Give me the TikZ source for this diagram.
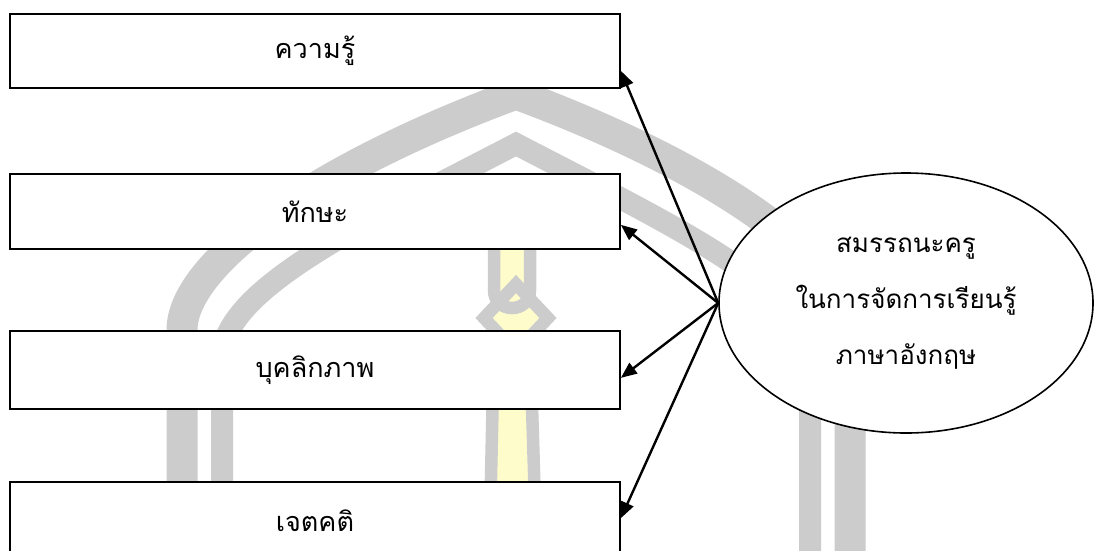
\documentclass[tikz,border=0pt]{standalone}
\usepackage{fontspec}
\newfontfamily\thai[Script=Thai]{Loma}
\usetikzlibrary{arrows.meta,shapes.geometric}
\definecolor{wmgrey}{HTML}{CCCCCC}
\definecolor{wmyellow}{HTML}{FFFCCC}
\tikzset{
  box/.style={draw=black, line width=1.7pt, fill=white, rectangle,
    minimum width=610pt, inner sep=0pt, font=\thai\fontsize{27}{32}\selectfont},
  core/.style={draw=black, line width=1.6pt, fill=white, ellipse,
    minimum width=374pt, minimum height=260pt, inner sep=0pt, align=center,
    font=\thai\fontsize{26}{56}\selectfont},
  link/.style={line width=2.4pt, -{Triangle[length=16pt,width=13pt]}},
  band/.style={draw=wmgrey},
  spire/.style={draw=wmgrey, line width=12.5pt, line join=miter},
}
\begin{document}
\begin{tikzpicture}[x=1pt,y=-1pt]
\fill[white] (0,0) rectangle (1094,550);
\useasboundingbox (0,0) rectangle (1094,550);

% background emblem: two arched bands
\draw[band, line width=31pt] (182,570) -- (182,330)
  .. controls (182,265) and (310,170) .. (516,94)
  .. controls (722,170) and (850,265) .. (850,330) -- (850,570);
\draw[band, line width=22pt] (222,570) -- (222,358)
  .. controls (222,290) and (360,225) .. (516,144)
  .. controls (672,225) and (810,290) .. (810,358) -- (810,570);

% background emblem: central spire
\fill[wmyellow] (494,185) -- (494,290) .. controls (494,314) and (530,314) .. (530,290) -- (530,185) -- cycle;
\fill[wmyellow] (516,284) -- (548,318) -- (516,352) -- (484,318) -- cycle;
\fill[wmyellow] (494,340) -- (489,570) -- (537,570) -- (530,340) -- cycle;
\draw[spire] (516,284) -- (548,318) -- (516,352) -- (484,318) -- cycle;
\draw[spire] (494,185) -- (494,290) .. controls (494,314) and (530,314) .. (530,290) -- (530,185);
\draw[spire] (494,340) -- (489,570);
\draw[spire] (530,340) -- (537,570);

% factor boxes
\node[box, minimum height=74pt] (b1) at (315,51) {ความรู้};
\node[box, minimum height=75pt] (b2) at (315,211.5) {ทักษะ};
\node[box, minimum height=78pt] (b3) at (315,370) {บุคลิกภาพ};
\node[box, minimum height=78pt] (b4) at (315,521) {เจตคติ};

% central construct
\node[core] (c) at (906,303) {สมรรถนะครู\\ในการจัดการเรียนรู้\\ภาษาอังกฤษ};

% links from the construct to each factor
\draw[link] (c.west) -- ([yshift=18pt]b1.south east);
\draw[link] (c.west) -- ([yshift=25pt]b2.south east);
\draw[link] (c.west) -- ([yshift=32pt]b3.south east);
\draw[link] (c.west) -- ([yshift=-37pt]b4.north east);
\end{tikzpicture}
\end{document}
